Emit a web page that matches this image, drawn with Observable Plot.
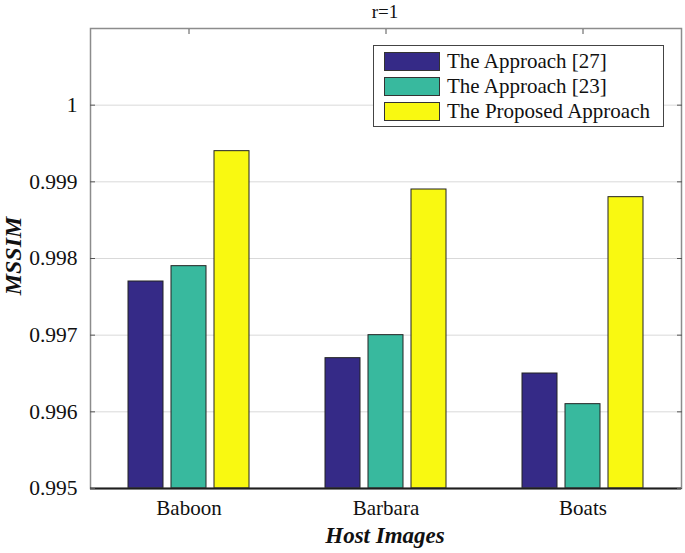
<!DOCTYPE html>
<html>
<head>
<meta charset="utf-8">
<script src="https://cdn.jsdelivr.net/npm/d3@7"></script>
<script src="https://cdn.jsdelivr.net/npm/@observablehq/plot@0.6"></script>
<style>
  html, body { margin: 0; padding: 0; background: #fff; }
  #wrap { position: relative; width: 685px; height: 553px; font-family: "Liberation Serif", "Times New Roman", serif; color: #111; }
  #wrap svg text { font-family: "Liberation Serif", "Times New Roman", serif !important; }
  .ov { position: absolute; line-height: 1; white-space: nowrap; }
  #legend { position: absolute; left: 373px; top: 45px; width: 289px; height: 80px; border: 1px solid #444; background: #fff; box-sizing: content-box; }
  .row { position: absolute; left: 10px; display: flex; align-items: center; height: 18px; font-size: 21px; }
  .sw { width: 54px; height: 17px; border: 1px solid #333; margin-right: 7px; }
</style>
</head>
<body>
<div id="wrap"></div>
<script>
// ---- data ----
const categories = ["Baboon", "Barbara", "Boats"];
const seriesNames = ["The Approach [27]", "The Approach [23]", "The Proposed Approach"];
const approach27 = [0.9977, 0.9967, 0.9965];
const approach23 = [0.9979, 0.9970, 0.9961];
const proposed   = [0.9994, 0.9989, 0.9988];
const yTicks = [0.995, 0.996, 0.997, 0.998, 0.999, 1];
const colors = ["#352a87", "#38b99e", "#f9f911"];
const titleText = "r=1";
const xLabel = "Host Images";
const yLabel = "MSSIM";

const seriesValues = [approach27, approach23, proposed];
const rows = [];
categories.forEach((c, i) => {
  seriesNames.forEach((s, j) => rows.push({cat: c, series: s, value: seriesValues[j][i]}));
});

const serif = "'Liberation Serif', 'Times New Roman', serif";

const chart = Plot.plot({
  width: 685,
  height: 553,
  marginLeft: 89,
  marginRight: 4,
  marginTop: 28,
  marginBottom: 65,
  style: {fontFamily: serif, fontSize: "21px", background: "transparent", color: "#111"},
  fx: {domain: categories, padding: 0, label: null},
  x: {domain: seriesNames, paddingInner: 0.1818, paddingOuter: 0.833, axis: null},
  y: {domain: [0.995, 1.001], axis: null},
  color: {domain: seriesNames, range: colors},
  marks: [
    Plot.gridY(yTicks, {stroke: "#d9d9d9", strokeOpacity: 1, strokeWidth: 1}),
    Plot.barY(rows, {fx: "cat", x: "series", y1: 0.995, y2: "value", fill: "series", stroke: "#222", strokeWidth: 1}),
    Plot.frame({facet: "super", stroke: "#8c8c8c", strokeWidth: 1.5}),
    Plot.ruleY([0.995], {stroke: "#1e1e1e", strokeWidth: 2}),
    Plot.axisY(yTicks, {anchor: "left", tickSize: -5, tickPadding: 18, stroke: "#555", fill: "#111", fontSize: 21.5, fontFamily: serif, label: null, tickFormat: d => String(d)}),
    Plot.axisY(yTicks, {anchor: "right", tickSize: -5, stroke: "#555", label: null, tickFormat: () => ""}),
    Plot.axisFx({anchor: "bottom", tickSize: 0, tickPadding: 12, fontSize: 21, fontFamily: serif, fill: "#111", label: null}),
    Plot.axisFx({anchor: "top", tickSize: -5, stroke: "#555", label: null, tickFormat: () => ""})
  ]
});

const wrap = document.getElementById("wrap");
wrap.appendChild(chart);

function addText(txt, css) {
  const d = document.createElement("div");
  d.className = "ov";
  d.textContent = txt;
  Object.assign(d.style, css);
  wrap.appendChild(d);
  return d;
}
addText(titleText, {left: "385px", top: "2px", fontSize: "19px", transform: "translateX(-50%)"});
addText(xLabel, {left: "385px", top: "524px", fontSize: "23px", fontWeight: "bold", fontStyle: "italic", transform: "translateX(-50%)"});
addText(yLabel, {left: "13px", top: "256px", fontSize: "24px", fontWeight: "bold", fontStyle: "italic", transform: "translate(-50%, -50%) rotate(-90deg)"});

const legend = document.createElement("div");
legend.id = "legend";
seriesNames.forEach((s, i) => {
  const r = document.createElement("div");
  r.className = "row";
  r.style.top = (6 + 25 * i) + "px";
  const sw = document.createElement("div");
  sw.className = "sw";
  sw.style.background = colors[i];
  const t = document.createElement("span");
  t.textContent = s;
  r.appendChild(sw);
  r.appendChild(t);
  legend.appendChild(r);
});
wrap.appendChild(legend);
</script>
</body>
</html>
